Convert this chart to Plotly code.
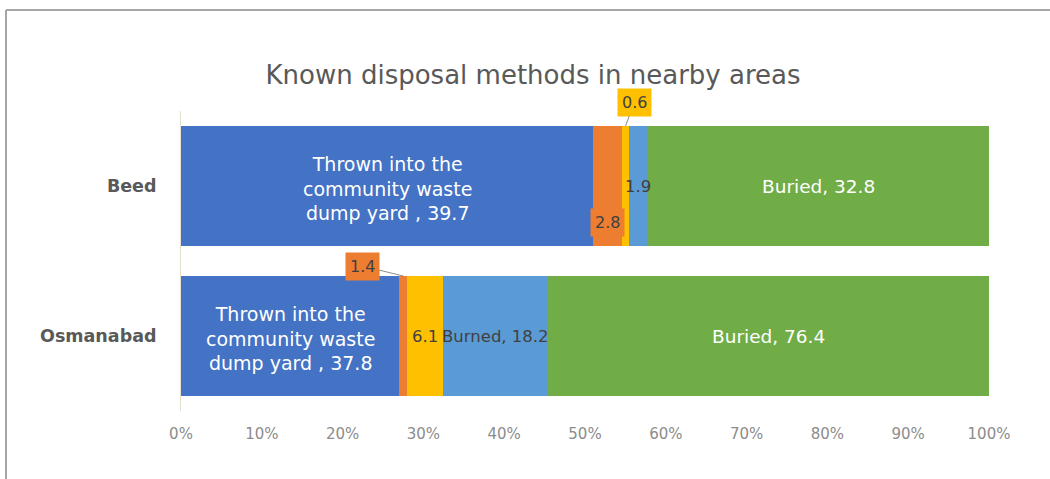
import plotly.graph_objects as go

categories = ["Beed", "Osmanabad"]
series_names = ["Thrown into the community waste dump yard", "Other 1", "Other 2", "Burned", "Buried"]
thrown = [39.7, 37.8]
orange_vals = [2.8, 1.4]
yellow_vals = [0.6, 6.1]
burned = [1.9, 18.2]
buried = [32.8, 76.4]
x_ticks = [0, 10, 20, 30, 40, 50, 60, 70, 80, 90, 100]

colors = ["#4472C4", "#ED7D31", "#FFC000", "#5B9BD5", "#70AD47"]
all_series = [thrown, orange_vals, yellow_vals, burned, buried]

W, H = 1050, 479
L, R, T, B = 181, 61, 111, 68
PW, PH = W - L - R, H - T - B

fig = go.Figure()
for name, vals, col in zip(series_names, all_series, colors):
    fig.add_trace(go.Bar(y=categories, x=vals, name=name, orientation="h",
                         marker=dict(color=col, line=dict(width=0)), hoverinfo="x+name"))

# percentages for label placement
totals = [sum(s[i] for s in all_series) for i in range(len(categories))]
def seg(i, k):
    start = sum(all_series[j][i] for j in range(k)) / totals[i] * 100
    width = all_series[k][i] / totals[i] * 100
    return start, start + width, start + width / 2

DARK = "#404040"
FONT = "DejaVu Sans"
ann = []
for i, cat in enumerate(categories):
    _, _, c = seg(i, 0)
    ann.append(dict(x=c, y=i + 0.015, text="Thrown into the<br>community waste<br>dump yard , %s" % thrown[i],
                    showarrow=False, font=dict(color="white", size=19, family=FONT)))
    _, _, c = seg(i, 4)
    ann.append(dict(x=c, y=i, text="Buried, %s" % buried[i], showarrow=False,
                    font=dict(color="white", size=18.5, family=FONT)))

# Beed extras
_, _, c = seg(0, 1)
ann.append(dict(x=c, y=0.24, text="2.8", showarrow=False, bgcolor="#ED7D31",
                borderpad=4, font=dict(color=DARK, size=16, family=FONT)))
_, _, c = seg(0, 2)
ann.append(dict(x=c, y=-0.4, text="0.6", showarrow=True, arrowhead=0, arrowwidth=1,
                arrowcolor="#8c8c8c", ax=9, ay=-24, bgcolor="#FFC000", borderpad=4,
                font=dict(color=DARK, size=16, family=FONT)))
_, _, c = seg(0, 3)
ann.append(dict(x=c, y=0, text="1.9", showarrow=False, font=dict(color=DARK, size=16.5, family=FONT)))
# Osmanabad extras
_, _, c = seg(1, 1)
ann.append(dict(x=c, y=1 - 0.4, text="1.4", showarrow=True, arrowhead=0, arrowwidth=1,
                arrowcolor="#8c8c8c", ax=-41, ay=-10, bgcolor="#ED7D31", borderpad=4,
                font=dict(color=DARK, size=16, family=FONT)))
_, _, c = seg(1, 2)
ann.append(dict(x=c, y=1, text="6.1", showarrow=False, font=dict(color=DARK, size=16.5, family=FONT)))
_, _, c = seg(1, 3)
ann.append(dict(x=c, y=1, text="Burned, 18.2", showarrow=False, font=dict(color=DARK, size=16.5, family=FONT)))

# frame lines (top and left)
fx = (6 - L) / PW
fy = (H - B - 10) / PH
shapes = [
    dict(type="line", xref="paper", yref="paper", x0=fx, x1=(W - L) / PW + 0.01, y0=fy, y1=fy,
         line=dict(color="#a6a6a6", width=2)),
    dict(type="line", xref="paper", yref="paper", x0=fx, x1=fx, y0=fy, y1=-0.3,
         line=dict(color="#a6a6a6", width=2)),
]

fig.update_layout(
    barmode="stack", barnorm="percent", bargap=0.2,
    width=W, height=H, margin=dict(l=L, r=R, t=T, b=B),
    paper_bgcolor="white", plot_bgcolor="white", showlegend=False,
    title=dict(text="Known disposal methods in nearby areas", x=533 / W, xanchor="center",
               y=1 - 75 / H, yanchor="middle", font=dict(size=26, color="#595959", family=FONT)),
    xaxis=dict(range=[0, 100], tickvals=x_ticks, ticktext=["%d%%" % v for v in x_ticks],
               showgrid=False, zeroline=False, showline=False, ticks="", ticklabelstandoff=12,
               tickfont=dict(size=15, color="#8c8c8c", family=FONT)),
    yaxis=dict(autorange="reversed", showline=True, linecolor="#e6e0d0", linewidth=1, ticks="",
               ticklabelstandoff=20, tickfont=dict(size=17.5, color="#595959", family=FONT, weight="bold")),
    annotations=ann, shapes=shapes,
)
fig.write_html("out.html")
